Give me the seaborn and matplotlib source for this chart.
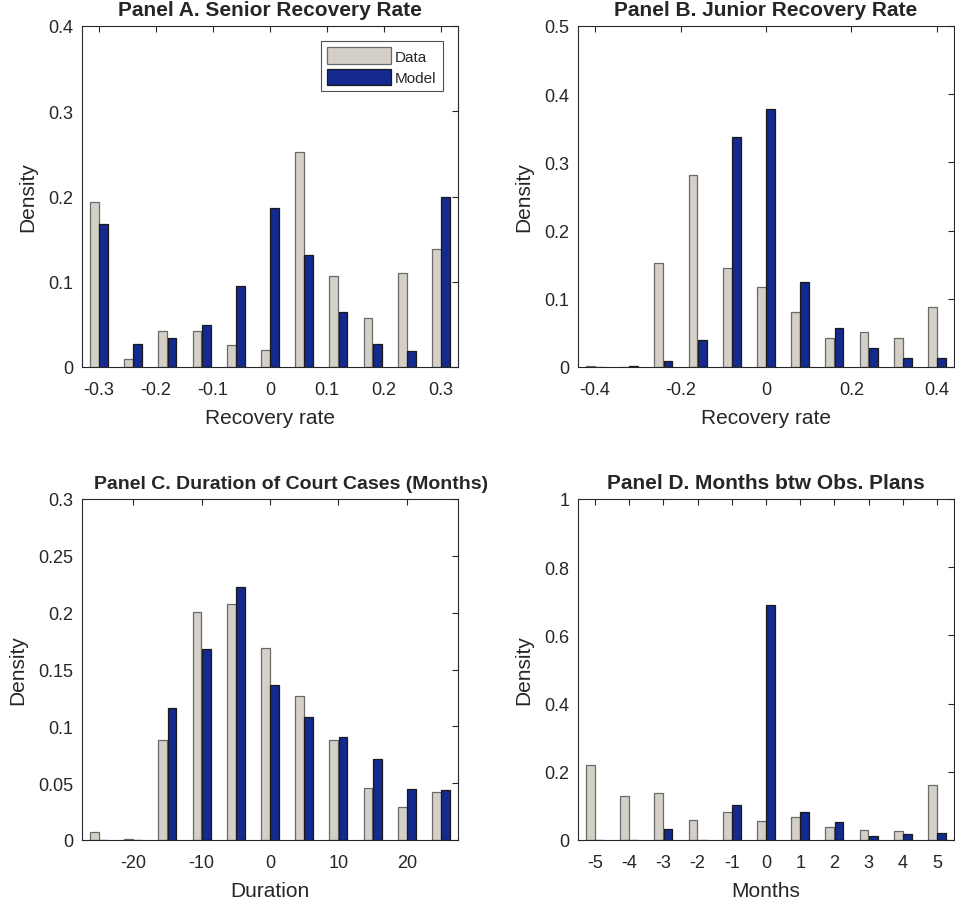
import pandas as pd
import seaborn as sns
import matplotlib.pyplot as plt
from matplotlib.patches import Patch

# bin centres and densities
sen_x = [-0.3, -0.24, -0.18, -0.12, -0.06, 0.0, 0.06, 0.12, 0.18, 0.24, 0.3]
sen_data = [0.194, 0.0098, 0.042, 0.042, 0.026, 0.0196, 0.252, 0.107, 0.058, 0.110, 0.139]
sen_model = [0.168, 0.0266, 0.034, 0.049, 0.095, 0.187, 0.131, 0.064, 0.027, 0.019, 0.200]

jun_x = [-0.4, -0.32, -0.24, -0.16, -0.08, 0.0, 0.08, 0.16, 0.24, 0.32, 0.4]
jun_data = [0.001, 0.0003, 0.152, 0.2815, 0.1457, 0.1168, 0.081, 0.0425, 0.052, 0.0425, 0.0875]
jun_model = [0.0004, 0.0015, 0.0088, 0.0396, 0.3368, 0.379, 0.124, 0.0577, 0.0274, 0.0132, 0.0132]

dur_x = [-25, -20, -15, -10, -5, 0, 5, 10, 15, 20, 25]
dur_data = [0.0068, 0.0005, 0.0876, 0.2009, 0.2076, 0.1685, 0.1265, 0.0876, 0.0456, 0.0294, 0.0424]
dur_model = [0.0003, 0.0003, 0.116, 0.168, 0.223, 0.1365, 0.108, 0.091, 0.0709, 0.0447, 0.0438]

mon_x = [-5, -4, -3, -2, -1, 0, 1, 2, 3, 4, 5]
mon_data = [0.2206, 0.130, 0.137, 0.0588, 0.0814, 0.0559, 0.0686, 0.0392, 0.0294, 0.0265, 0.160]
mon_model = [0.001, 0.001, 0.0324, 0.001, 0.102, 0.689, 0.0814, 0.052, 0.0108, 0.0176, 0.0196]

sns.set_style("white")
plt.rcParams['font.family'] = ['Liberation Sans', 'DejaVu Sans']
plt.rcParams['axes.unicode_minus'] = False

DATA_COL = '#d4d0c8'
MODEL_COL = '#142a8e'
DATA_EDGE = '#6a6a6a'
MODEL_EDGE = '#1a1a1a'
AX_COL = '#262626'

# title, xlabel, x, data, model, xlim, xticks, ylim, yticks, title size, title x
panels = [
    ("Panel A. Senior Recovery Rate", "Recovery rate", sen_x, sen_data, sen_model,
     (-0.33, 0.33), [-0.3, -0.2, -0.1, 0, 0.1, 0.2, 0.3], (0, 0.4), [0, 0.1, 0.2, 0.3, 0.4], 15, 0.5),
    ("Panel B. Junior Recovery Rate", "Recovery rate", jun_x, jun_data, jun_model,
     (-0.44, 0.44), [-0.4, -0.2, 0, 0.2, 0.4], (0, 0.5), [0, 0.1, 0.2, 0.3, 0.4, 0.5], 15, 0.5),
    ("Panel C. Duration of Court Cases (Months)", "Duration", dur_x, dur_data, dur_model,
     (-27.5, 27.5), [-20, -10, 0, 10, 20], (0, 0.3), [0, 0.05, 0.1, 0.15, 0.2, 0.25, 0.3], 14, 0.555),
    ("Panel D. Months btw Obs. Plans", "Months", mon_x, mon_data, mon_model,
     (-5.5, 5.5), list(range(-5, 6)), (0, 1), [0, 0.2, 0.4, 0.6, 0.8, 1], 15, 0.5),
]

W, H = 955, 903
boxes = [(82, 27), (578, 27), (82, 500), (578, 500)]
aw, ah = 376, 341

fig = plt.figure(figsize=(W / 100, H / 100), dpi=100)

for i, (title, xlabel, xs, d, m, xlim, xt, ylim, yt, tsize, tx) in enumerate(panels):
    left, top = boxes[i]
    ax = fig.add_axes([left / W, 1 - (top + ah) / H, aw / W, ah / H])
    df = pd.DataFrame({
        'x': xs + xs,
        'density': d + m,
        'series': ['Data'] * len(xs) + ['Model'] * len(xs),
    })
    sns.barplot(data=df, x='x', y='density', hue='series', native_scale=True,
                width=0.54, gap=0.04, palette=[DATA_COL, MODEL_COL],
                saturation=1, errorbar=None, ax=ax, legend=False)
    for cont, ec in zip(ax.containers, [DATA_EDGE, MODEL_EDGE]):
        for p in cont:
            p.set_edgecolor(ec)
            p.set_linewidth(0.9)

    ax.set_xlim(*xlim)
    ax.set_ylim(*ylim)
    ax.set_xticks(xt)
    ax.set_xticklabels([f"{v:g}" for v in xt])
    ax.set_yticks(yt)
    ax.set_yticklabels([f"{v:g}" for v in yt])
    ax.tick_params(direction='in', length=4, width=0.8, top=True, right=True,
                   labelsize=13, colors=AX_COL, pad=6)
    ax.tick_params(axis='x', pad=10)
    for s in ax.spines.values():
        s.set_visible(True)
        s.set_color(AX_COL)
        s.set_linewidth(0.8)
    ax.set_title(title, fontsize=tsize, fontweight='bold', pad=8, x=tx)
    ax.set_xlabel(xlabel, fontsize=15, color=AX_COL, labelpad=7)
    ax.set_ylabel("Density", fontsize=15, color=AX_COL, labelpad=8)

    if i == 0:
        handles = [Patch(facecolor=DATA_COL, edgecolor=DATA_EDGE, linewidth=0.9, label='Data'),
                   Patch(facecolor=MODEL_COL, edgecolor=MODEL_EDGE, linewidth=0.9, label='Model')]
        leg = ax.legend(handles=handles, loc='upper right', fontsize=11, handlelength=4.2,
                        handleheight=1.25, frameon=True, fancybox=False, edgecolor=AX_COL,
                        borderaxespad=1.0, handletextpad=0.25, labelspacing=0.35, borderpad=0.4)
        leg.get_frame().set_linewidth(0.8)

fig.savefig("out.png", dpi=100)
